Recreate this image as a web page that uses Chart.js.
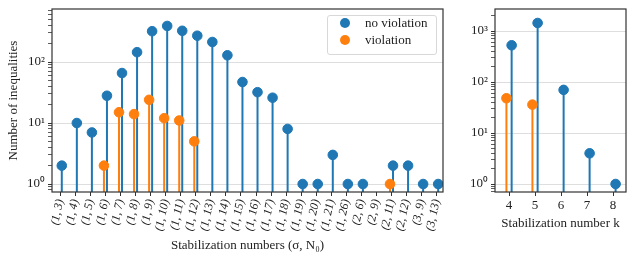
<!DOCTYPE html>
<html>
<head>
<meta charset="utf-8">
<script src="https://cdn.jsdelivr.net/npm/chart.js@4.4.1/dist/chart.umd.min.js"></script>
<style>
  body { margin: 0; background: #fff; }
  #wrap { position: relative; width: 635px; height: 263px; overflow: hidden; }
  #leftChart { position: absolute; left: 0; top: 0; }
  #rightChart { position: absolute; left: 455px; top: 0; }
  .legend {
    position: absolute; left: 327px; top: 15px; width: 110px; height: 40px;
    box-sizing: border-box; border: 1px solid #d8d8d8; border-radius: 3px;
    background: rgba(255,255,255,0.85);
    font-family: "Liberation Serif", serif; font-size: 13px; color: #222;
  }
  .legend .item { position: absolute; left: 0; height: 14px; line-height: 14px; padding-left: 37px; white-space: nowrap; }
  .legend .dot { position: absolute; left: 12px; top: 2px; width: 10px; height: 10px; border-radius: 50%; }
</style>
</head>
<body>
<div id="wrap">
  <canvas id="leftChart" width="450" height="263"></canvas>
  <canvas id="rightChart" width="180" height="263"></canvas>
  <div class="legend" id="legend"></div>
</div>
<script>
// stabilization numbers (sigma, N0)
const pairLabels = ['(1, 3)', '(1, 4)', '(1, 5)', '(1, 6)', '(1, 7)', '(1, 8)', '(1, 9)', '(1, 10)',
  '(1, 11)', '(1, 12)', '(1, 13)', '(1, 14)', '(1, 15)', '(1, 16)', '(1, 17)', '(1, 18)', '(1, 19)',
  '(1, 20)', '(1, 21)', '(1, 26)', '(2, 6)', '(2, 9)', '(2, 11)', '(2, 12)', '(3, 9)', '(3, 13)'];
const pairNoViolation = [2, 10, 7, 28, 66, 145, 320, 390, 325, 270, 213, 129, 47, 32, 26, 8, 1,
  1, 3, 1, 1, null, 2, 2, 1, 1];
const pairViolation = [null, null, null, 2, 15, 14, 24, 12, 11, 5, null, null, null, null, null, null, null,
  null, null, null, null, null, 1, null, null, null];

// stabilization number k
const kLabels = [4, 5, 6, 7, 8];
const kNoViolation = [525, 1435, 70, 4, 1];
const kViolation = [48, 36, null, null, null];

const powerLabels = { 1: '10\u2070', 10: '10\u00b9', 100: '10\u00b2', 1000: '10\u00b3' };

const BLUE = '#1f77b4';
const ORANGE = '#ff7f0e';
const FONT = { family: 'Liberation Serif', size: 13 };

const legendItems = [
  { name: 'no violation', color: BLUE },
  { name: 'violation', color: ORANGE }
];
document.getElementById('legend').innerHTML = legendItems.map((it, i) =>
  `<div class="item" style="top:${i * 16.6}px"><span class="dot" style="background:${it.color}"></span>${it.name}</div>`
).join('');

function stemPoints(xs, ys, shift, base) {
  const pts = [];
  ys.forEach((v, i) => {
    if (v == null) return;
    pts.push({ x: xs[i] + shift, y: base }, { x: xs[i] + shift, y: v }, { x: xs[i] + shift, y: null });
  });
  return pts;
}

function markerPoints(xs, ys, shift) {
  const pts = [];
  ys.forEach((v, i) => {
    if (v != null) pts.push({ x: xs[i] + shift, y: v });
  });
  return pts;
}

function logTicks(min, max) {
  const ticks = [];
  for (let e = Math.floor(Math.log10(min)); e <= Math.ceil(Math.log10(max)); e++) {
    for (let m = 1; m <= 9; m++) {
      const v = e < 0 ? m / Math.pow(10, -e) : m * Math.pow(10, e);
      if (v >= min && v <= max) ticks.push({ value: v, major: m === 1 });
    }
  }
  return ticks;
}

const framePlugin = {
  id: 'frame',
  afterDatasetsDraw(chart) {
    const { ctx, chartArea: a } = chart;
    ctx.save();
    ctx.strokeStyle = '#333';
    ctx.lineWidth = 1.2;
    ctx.strokeRect(a.left, a.top, a.right - a.left, a.bottom - a.top);
    ctx.restore();
  }
};

function buildDatasets(xs, blue, orange, base) {
  return [
    { data: markerPoints(xs, orange, -0.1), backgroundColor: ORANGE, borderColor: ORANGE, pointRadius: 4.8, pointHoverRadius: 4.8, showLine: false },
    { data: stemPoints(xs, orange, -0.1, base), borderColor: ORANGE, borderWidth: 2, pointRadius: 0, showLine: true, spanGaps: false },
    { data: markerPoints(xs, blue, 0.1), backgroundColor: BLUE, borderColor: BLUE, pointRadius: 4.8, pointHoverRadius: 4.8, showLine: false },
    { data: stemPoints(xs, blue, 0.1, base), borderColor: BLUE, borderWidth: 2, pointRadius: 0, showLine: true, spanGaps: false }
  ];
}

function yAxis(min, max, width, title) {
  return {
    type: 'logarithmic',
    min: min, max: max,
    afterBuildTicks: s => { s.ticks = logTicks(min, max); s.min = min; s.max = max; },
    afterFit: s => { s.width = width; s.paddingTop = 0; s.paddingBottom = 0; },
    ticks: { autoSkip: false, font: FONT, color: '#222', padding: 3, callback: v => powerLabels[v] || '' },
    grid: {
      color: c => (c.tick && c.tick.major ? '#dedede' : 'rgba(0,0,0,0)'),
      lineWidth: 1,
      tickColor: '#333',
      tickWidth: c => (c.tick && c.tick.major ? 1 : 0.8),
      tickLength: 4
    },
    border: { display: false },
    title: { display: !!title, text: title, font: FONT, color: '#222', padding: { top: 6, bottom: 0 } }
  };
}

function xAxis(min, max, values, labels, height, rotation, title, titlePad) {
  return {
    type: 'linear',
    min: min, max: max,
    afterBuildTicks: s => { s.ticks = values.map(v => ({ value: v })); s.min = min; s.max = max; },
    afterFit: s => { s.height = height; s.paddingLeft = 0; s.paddingRight = 0; },
    ticks: {
      autoSkip: false, minRotation: rotation, maxRotation: rotation, padding: 2,
      font: rotation ? { family: 'Liberation Serif', size: 12, style: 'italic' } : FONT,
      color: '#222',
      callback: v => labels[values.indexOf(v)]
    },
    grid: { drawOnChartArea: false, tickColor: '#333', tickLength: 4 },
    border: { display: false },
    title: { display: true, text: title, font: FONT, color: '#222', padding: { top: 0, bottom: titlePad } }
  };
}

const pairIdx = pairLabels.map((_, i) => i);
const leftMin = 0.74, leftMax = 740;
new Chart(document.getElementById('leftChart'), {
  type: 'scatter',
  data: { datasets: buildDatasets(pairIdx, pairNoViolation, pairViolation, leftMin) },
  options: {
    responsive: false, animation: false, devicePixelRatio: 1,
    layout: { padding: { top: 9, right: 7, left: 0, bottom: 0 } },
    plugins: { legend: { display: false }, tooltip: { enabled: false } },
    scales: {
      x: xAxis(-0.55, 25.42, pairIdx, pairLabels, 71, 78, 'Stabilization numbers (\u03c3, N\u2080)', 10),
      y: yAxis(leftMin, leftMax, 52, 'Number of inequalities')
    }
  },
  plugins: [framePlugin]
});

const rightMin = 0.697, rightMax = 2700;
new Chart(document.getElementById('rightChart'), {
  type: 'scatter',
  data: { datasets: buildDatasets(kLabels, kNoViolation, kViolation, rightMin) },
  options: {
    responsive: false, animation: false, devicePixelRatio: 1,
    layout: { padding: { top: 9, right: 9, left: 0, bottom: 0 } },
    plugins: { legend: { display: false }, tooltip: { enabled: false } },
    scales: {
      x: xAxis(3.46, 8.5, kLabels, kLabels, 71, 0, 'Stabilization number k', 32),
      y: yAxis(rightMin, rightMax, 40, '')
    }
  },
  plugins: [framePlugin]
});
</script>
</body>
</html>
